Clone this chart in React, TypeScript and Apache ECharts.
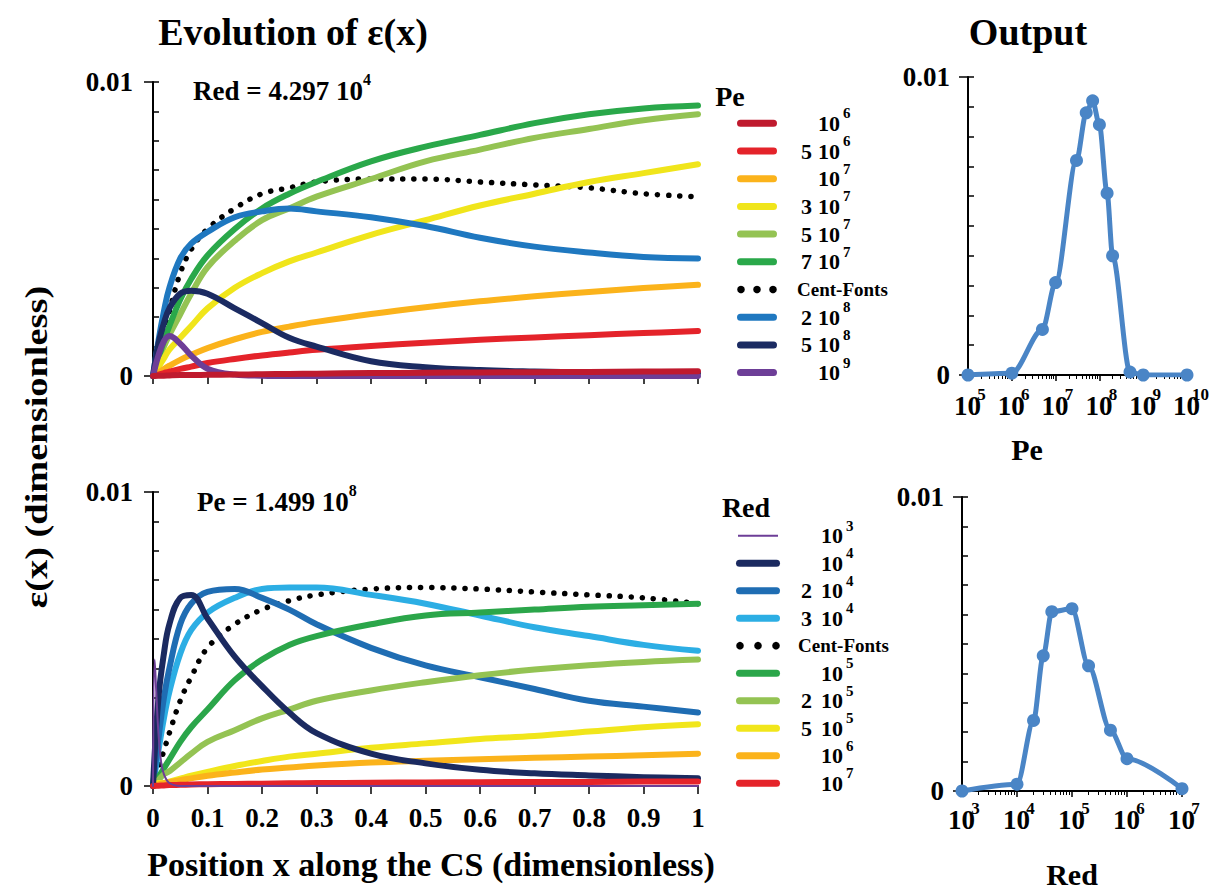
import React, { useEffect, useRef } from 'react';
import * as echarts from 'echarts';

const FONT = 'Liberation Serif';

// sample positions along the CS (dimensionless)
const xPos = [0, 0.01, 0.02, 0.03, 0.05, 0.07, 0.1, 0.15, 0.2, 0.25, 0.3, 0.4, 0.5, 0.6, 0.7, 0.8, 0.9, 1.0];

// ---- Top panel: Red = 4.297 10^4, varying Pe ----
const pe1e6 = [0, 0.00001, 0.00001, 0.00002, 0.00003, 0.00003, 0.00004, 0.00005, 0.00006, 0.00007, 0.00008, 0.0001, 0.00011, 0.00012, 0.00013, 0.00014, 0.00015, 0.00016];
const pe5e6 = [0, 0.00005, 0.0001, 0.00015, 0.00024, 0.00032, 0.00044, 0.00058, 0.0007, 0.0008, 0.00089, 0.00102, 0.00113, 0.00123, 0.00131, 0.00139, 0.00146, 0.00153];
const pe1e7 = [0, 0.00012, 0.00024, 0.00035, 0.00055, 0.00072, 0.00095, 0.00125, 0.0015, 0.00168, 0.00184, 0.00211, 0.00234, 0.00254, 0.00271, 0.00286, 0.00299, 0.0031];
const pe3e7 = [0, 0.0003, 0.0006, 0.0009, 0.0013, 0.0017, 0.0023, 0.003, 0.0035, 0.0039, 0.0042, 0.0048, 0.0053, 0.0058, 0.0062, 0.0066, 0.0069, 0.0072];
const pe5e7 = [0, 0.0005, 0.001, 0.0014, 0.0021, 0.0028, 0.0037, 0.0046, 0.0053, 0.0057, 0.0061, 0.0067, 0.0073, 0.0077, 0.0081, 0.0084, 0.0087, 0.0089];
const pe7e7 = [0, 0.0006, 0.0012, 0.0017, 0.0026, 0.0033, 0.0041, 0.005, 0.0057, 0.0062, 0.0066, 0.0073, 0.0078, 0.0082, 0.0086, 0.0089, 0.0091, 0.0092];
const centFontsTop = [0, 0.0008, 0.0015, 0.0022, 0.0035, 0.0043, 0.005, 0.0057, 0.0062, 0.0064, 0.0066, 0.0067, 0.0067, 0.0066, 0.0065, 0.0064, 0.0062, 0.0061];
const pe2e8 = [0, 0.0012, 0.0022, 0.003, 0.004, 0.0045, 0.0049, 0.0054, 0.0056, 0.0057, 0.0056, 0.0054, 0.0051, 0.0047, 0.0044, 0.0042, 0.00405, 0.004];
const pe5e8 = [0, 0.0011, 0.0018, 0.0023, 0.0028, 0.0029, 0.0028, 0.0023, 0.0018, 0.0013, 0.001, 0.0005, 0.0003, 0.0002, 0.00015, 0.00012, 0.0001, 0.0001];
const pe1e9 = [0, 0.0007, 0.00118, 0.00136, 0.0011, 0.0007, 0.00025, 0.00005, 0.00001, 0, 0, 0, 0, 0, 0, 0, 0, 0];

// ---- Bottom panel: Pe = 1.499 10^8, varying Red ----
const red1e3X = [0, 0.003, 0.006, 0.01, 0.015, 0.02, 0.03, 0.05, 1];
const red1e3 = [0, 0.0043, 0.0032, 0.0018, 0.0008, 0.0004, 0.0001, 0, 0];
const red1e4 = [0, 0.003, 0.0045, 0.0055, 0.0064, 0.0065, 0.0057, 0.0044, 0.0034, 0.0025, 0.0018, 0.0011, 0.00077, 0.00055, 0.00043, 0.00036, 0.0003, 0.00026];
const red2e4 = [0, 0.0016, 0.003, 0.004, 0.0055, 0.0062, 0.0066, 0.0067, 0.0064, 0.006, 0.0055, 0.0047, 0.0041, 0.0037, 0.0033, 0.0029, 0.0027, 0.0025];
const red3e4 = [0, 0.0012, 0.0023, 0.0032, 0.0045, 0.0053, 0.0059, 0.0064, 0.0067, 0.00675, 0.00675, 0.0065, 0.0062, 0.0058, 0.0054, 0.0051, 0.0048, 0.0046];
const centFontsBottom = [0, 0.0006, 0.0012, 0.0018, 0.0029, 0.0037, 0.0047, 0.0055, 0.006, 0.0063, 0.0065, 0.0067, 0.00675, 0.0067, 0.0066, 0.0065, 0.0064, 0.0062];
const red1e5 = [0, 0.0003, 0.0006, 0.0009, 0.0015, 0.002, 0.0026, 0.0036, 0.0043, 0.0048, 0.0051, 0.0055, 0.0058, 0.0059, 0.006, 0.0061, 0.00615, 0.0062];
const red2e5 = [0, 0.0002, 0.0004, 0.0005, 0.0008, 0.0011, 0.0015, 0.0019, 0.0023, 0.0026, 0.0029, 0.00325, 0.00353, 0.00377, 0.00396, 0.00411, 0.00422, 0.0043];
const red5e5 = [0, 0.0001, 0.0001, 0.00015, 0.00025, 0.00035, 0.00048, 0.00068, 0.00085, 0.001, 0.0011, 0.0013, 0.00145, 0.0016, 0.0017, 0.00185, 0.002, 0.0021];
const red1e6 = [0, 0.00005, 0.0001, 0.00013, 0.0002, 0.00026, 0.00035, 0.00046, 0.00056, 0.00063, 0.0007, 0.0008, 0.00086, 0.00091, 0.00096, 0.001, 0.00105, 0.0011];
const red1e7 = [0, 0.00001, 0.00002, 0.00003, 0.00004, 0.00005, 0.00006, 0.00007, 0.00008, 0.00009, 0.0001, 0.00011, 0.00012, 0.00013, 0.00014, 0.00014, 0.00015, 0.00015];

// ---- Output panels ----
const outPe = [1e5, 1e6, 5e6, 1e7, 3e7, 5e7, 7e7, 1e8, 1.499e8, 2e8, 5e8, 1e9, 1e10];
const outPeEps = [0, 0.00006, 0.00153, 0.0031, 0.0072, 0.0088, 0.0092, 0.0084, 0.0061, 0.004, 0.0001, 0, 0];
const outRed = [1e3, 1e4, 2e4, 3e4, 4.297e4, 1e5, 2e5, 5e5, 1e6, 1e7];
const outRedEps = [0, 0.00023, 0.0024, 0.0046, 0.0061, 0.0062, 0.00426, 0.00207, 0.0011, 0.00008];

// ---- Legends ----
const topNames = ['Pe 1e6', 'Pe 5e6', 'Pe 1e7', 'Pe 3e7', 'Pe 5e7', 'Pe 7e7', 'Pe Cent-Fonts', 'Pe 2e8', 'Pe 5e8', 'Pe 1e9'];
const topPre = ['', '5', '', '3', '5', '7', '', '2', '5', ''];
const topExp = ['6', '6', '7', '7', '7', '7', '', '8', '8', '9'];
const topColors = ['#bf1a2e', '#e4232a', '#fbb31b', '#f0e51b', '#94c353', '#2aa84a', '#000000', '#1f78c0', '#1b2b62', '#6d3e97'];
const topData = [pe1e6, pe5e6, pe1e7, pe3e7, pe5e7, pe7e7, centFontsTop, pe2e8, pe5e8, pe1e9];

const botNames = ['Red 1e3', 'Red 1e4', 'Red 2e4', 'Red 3e4', 'Red Cent-Fonts', 'Red 1e5', 'Red 2e5', 'Red 5e5', 'Red 1e6', 'Red 1e7'];
const botPre = ['', '', '2', '3', '', '', '2', '5', '', ''];
const botExp = ['3', '4', '4', '4', '', '5', '5', '5', '6', '7'];
const botColors = ['#6d3e97', '#1b2a60', '#1f6db3', '#2caee4', '#000000', '#2ba64a', '#94c353', '#f1e61b', '#fbb31b', '#e5242a'];
const botData = [red1e3, red1e4, red2e4, red3e4, centFontsBottom, red1e5, red2e5, red5e5, red1e6, red1e7];

const topDrawOrder = [6, 4, 5, 3, 2, 1, 7, 8, 9, 0];
const botDrawOrder = [4, 3, 2, 5, 6, 7, 8, 1, 9, 0];

const axisBlack = { color: '#000', width: 2 };
const tickBlack = { color: '#000', width: 1.5 };

function yAxesFor(gridIndex: number, width: number, margin: number) {
  return [
    {
      type: 'value', gridIndex, min: 0, max: 0.01, interval: 0.01, position: 'left',
      axisLine: { show: true, onZero: false, lineStyle: axisBlack },
      axisTick: { show: true, length: 9, lineStyle: tickBlack },
      axisLabel: {
        show: true, formatter: (v: number) => (v === 0 ? '0' : '0.01'),
        fontSize: 27, fontWeight: 'bold', fontFamily: FONT, color: '#000', margin, hideOverlap: false,
      },
      splitLine: { show: false },
    },
    {
      type: 'value', gridIndex, min: 0, max: 0.01, interval: 0.001, position: 'right', offset: -width,
      axisLine: { show: false, onZero: false },
      axisTick: { show: true, length: 6, lineStyle: tickBlack },
      axisLabel: { show: false },
      splitLine: { show: false },
    },
  ];
}

function linearX(gridIndex: number, showLabels: boolean) {
  return {
    type: 'value', gridIndex, min: 0, max: 1, interval: 0.1,
    axisLine: { show: true, lineStyle: axisBlack },
    axisTick: { show: true, length: 8, lineStyle: tickBlack },
    axisLabel: {
      show: showLabels, formatter: (v: number) => String(Math.round(v * 10) / 10),
      fontSize: 27, fontWeight: 'bold', fontFamily: FONT, color: '#000', margin: 18, hideOverlap: false,
      showMinLabel: true, showMaxLabel: true,
    },
    splitLine: { show: false },
  };
}

function logX(gridIndex: number, min: number, max: number, margin: number) {
  const base = { fontFamily: FONT, fontWeight: 'bold' };
  return {
    type: 'log', logBase: 10, gridIndex, min, max,
    axisLine: { show: true, onZero: false, lineStyle: axisBlack },
    axisTick: { show: true, length: 6, lineStyle: tickBlack },
    minorTick: { show: true, splitNumber: 9, length: 4, lineStyle: { color: '#000', width: 1 } },
    axisLabel: {
      show: true, margin, hideOverlap: false, showMinLabel: true, showMaxLabel: true, interval: 0,
      formatter: (v: number) => {
        const e = Math.round(Math.log10(v));
        return `{b|10}{s|${e}}`;
      },
      rich: {
        b: { ...base, fontSize: 27, lineHeight: 40, color: '#000' },
        s: { ...base, fontSize: 17, lineHeight: 17, verticalAlign: 'top', color: '#000', width: 1 },
      },
    },
    splitLine: { show: false },
  };
}

function curve(name: string, xs: number[], ys: number[], color: string, xi: number, yi: number, width = 6) {
  const dotted = name.indexOf('Cent-Fonts') >= 0;
  return {
    type: 'line', name, xAxisIndex: xi, yAxisIndex: yi,
    data: xs.map((x, i) => [x, ys[i]]),
    symbol: 'none', smooth: 0.4, color, silent: true,
    lineStyle: dotted
      ? { color: '#000', width: 5.5, type: [0.1, 11], cap: 'round' }
      : { color, width, cap: 'round', join: 'round' },
    itemStyle: { color },
    emphasis: { disabled: true },
  };
}

function textEl(text: string, x: number, y: number, size: number, extra: any = {}) {
  return {
    type: 'text', x, y, silent: true,
    style: {
      text, fill: '#000', fontSize: size, fontWeight: 'bold', fontFamily: FONT,
      align: 'center', verticalAlign: 'middle', ...(extra.style || {}),
    },
    ...(extra.el || {}),
  };
}

function supText(main: string, sup: string, x: number, y: number) {
  const base = { fontFamily: FONT, fontWeight: 'bold', fill: '#000' };
  return {
    type: 'text', x, y, silent: true,
    style: {
      text: `{b|${main}}{s|${sup}}`, align: 'left', verticalAlign: 'middle',
      rich: {
        b: { ...base, fontSize: 27, lineHeight: 40 },
        s: { ...base, fontSize: 16, lineHeight: 14, verticalAlign: 'top' },
      },
    },
  };
}

// legend drawn from the legend arrays (sample line + label per row)
function legendRows(
  pre: string[], exp: string[], colors: string[], x0: number, w: number, y0: number, step: number,
  preRight: number, tenLeft: number, centLeft: number, thinIdx: number
) {
  const els: any[] = [];
  exp.forEach((e, i) => {
    const y = y0 + i * step;
    if (!e) {
      [4, w / 2, w - 4].forEach((dx) =>
        els.push({ type: 'circle', silent: true, shape: { cx: x0 + dx, cy: y, r: 3.8 }, style: { fill: '#000' } })
      );
      els.push(textEl('Cent-Fonts', centLeft, y, 19, { style: { align: 'left' } }));
      return;
    }
    if (i === thinIdx) {
      els.push({ type: 'rect', silent: true, shape: { x: x0 + 2, y: y - 1, width: w - 4, height: 2 }, style: { fill: colors[i] } });
    } else {
      els.push({ type: 'rect', silent: true, shape: { x: x0, y: y - 3.5, width: w, height: 7, r: 3.5 }, style: { fill: colors[i] } });
    }
    if (pre[i]) els.push(textEl(pre[i], preRight, y, 22, { style: { align: 'right' } }));
    els.push(textEl('10', tenLeft, y, 22, { style: { align: 'left' } }));
    els.push(textEl(e, tenLeft + 25, y - 10, 15, { style: { align: 'left' } }));
  });
  return els;
}

export default function App() {
  const ref = useRef<HTMLDivElement>(null);
  useEffect(() => {
    const chart = echarts.init(ref.current!, null, { renderer: 'svg' });
    const topSeries = topDrawOrder.map((i) => curve(topNames[i], xPos, topData[i], topColors[i], 0, 0));
    const botSeries = botDrawOrder.map((i) =>
      i === 0
        ? curve(botNames[0], red1e3X, red1e3, botColors[0], 1, 2, 2)
        : curve(botNames[i], xPos, botData[i], botColors[i], 1, 2)
    );
    const outColor = '#4a85c6';
    const outputSeries = [
      {
        type: 'line', name: 'Output Pe', xAxisIndex: 2, yAxisIndex: 4,
        data: outPe.map((x, i) => [x, outPeEps[i]]), symbol: 'circle', symbolSize: 13, showSymbol: true,
        smooth: 0.3, smoothMonotone: 'x', color: outColor, silent: true,
        lineStyle: { color: outColor, width: 5 }, itemStyle: { color: outColor }, emphasis: { disabled: true },
      },
      {
        type: 'line', name: 'Output Red', xAxisIndex: 3, yAxisIndex: 6,
        data: outRed.map((x, i) => [x, outRedEps[i]]), symbol: 'circle', symbolSize: 13, showSymbol: true,
        smooth: 0.3, smoothMonotone: 'x', color: outColor, silent: true,
        lineStyle: { color: outColor, width: 5 }, itemStyle: { color: outColor }, emphasis: { disabled: true },
      },
    ];

    const option: any = {
      animation: false,
      backgroundColor: '#ffffff',
      textStyle: { fontFamily: FONT, fontWeight: 'bold', color: '#000' },
      grid: [
        { left: 153, top: 82, width: 545, height: 294, outerBoundsMode: 'none' },
        { left: 153, top: 492, width: 545, height: 294, outerBoundsMode: 'none' },
        { left: 968, top: 77, width: 219, height: 298, outerBoundsMode: 'none' },
        { left: 962, top: 497, width: 220, height: 294, outerBoundsMode: 'none' },
      ],
      xAxis: [linearX(0, false), linearX(1, true), logX(2, 1e5, 1e10, 11), logX(3, 1e3, 1e7, 9)],
      yAxis: [
        ...yAxesFor(0, 545, 20),
        ...yAxesFor(1, 545, 20),
        ...yAxesFor(2, 219, 18),
        ...yAxesFor(3, 220, 18),
      ],
      graphic: [
        textEl('Evolution of \u03b5(x)', 293, 32, 38),
        textEl('Output', 1028, 32, 38),
        supText('Red = 4.297 10', '4', 193, 91),
        supText('Pe = 1.499 10', '8', 197, 502),
        textEl('\u03b5(x) (dimensionless)', 37, 447, 32, { el: { rotation: Math.PI / 2, scaleX: 1.2 } }),
        textEl('Position x along the CS (dimensionless)', 431, 864, 34),
        textEl('Pe', 730, 96, 28),
        textEl('Red', 746, 507, 28),
        textEl('Pe', 1027, 449, 30),
        textEl('Red', 1072, 874, 30),
        ...legendRows(topPre, topExp, topColors, 737, 40, 123.3, 27.7, 812, 818, 797, -1),
        ...legendRows(botPre, botExp, botColors, 736, 44, 535.7, 27.5, 812, 821, 798, 0),
      ],
      series: [...topSeries, ...botSeries, ...outputSeries],
    };
    chart.setOption(option);
    return () => chart.dispose();
  }, []);
  return (
    <div
      ref={ref}
      style={{ position: 'absolute', left: 0, top: 0, width: 1219, height: 890, background: '#fff' }}
    />
  );
}
